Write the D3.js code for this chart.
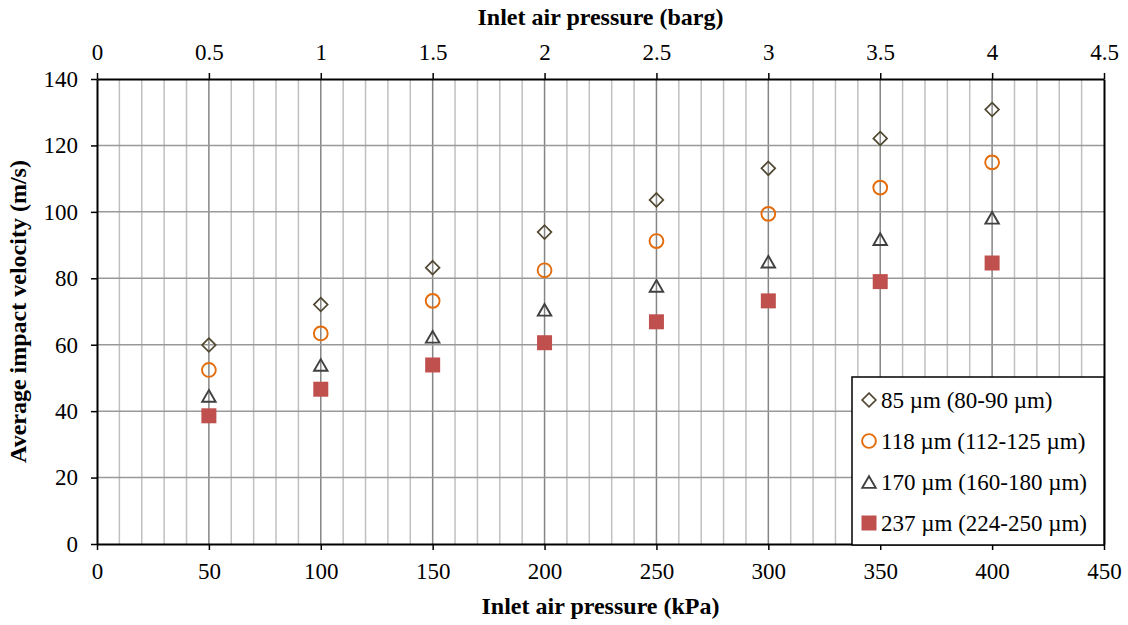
<!DOCTYPE html>
<html>
<head>
<meta charset="utf-8">
<script src="https://cdn.jsdelivr.net/npm/d3@7"></script>
<style>
  html, body { margin: 0; padding: 0; background: #fff; }
</style>
</head>
<body>
<svg id="chart" width="1128" height="625"></svg>
<script>
// Inlet pressure (kPa) and average impact velocity (m/s) per particle size
const pressureKPa = [50, 100, 150, 200, 250, 300, 350, 400];
const v85  = [59.9, 72.1, 83.2, 93.9, 103.6, 113.1, 122.1, 130.8];
const v118 = [52.4, 63.4, 73.2, 82.4, 91.2, 99.4, 107.3, 114.9];
const v170 = [44.6, 53.9, 62.4, 70.5, 77.7, 85.0, 91.8, 98.2];
const v237 = [38.6, 46.6, 53.9, 60.6, 66.9, 73.2, 79.0, 84.6];

const seriesNames = ["85 µm (80-90 µm)", "118 µm (112-125 µm)", "170 µm (160-180 µm)", "237 µm (224-250 µm)"];
const bottomTicks = [0, 50, 100, 150, 200, 250, 300, 350, 400, 450];
const topTicks = [0, 0.5, 1, 1.5, 2, 2.5, 3, 3.5, 4, 4.5];
const yTicks = [0, 20, 40, 60, 80, 100, 120, 140];
const minorX = d3.range(0, 451, 10);

const serif = '"Liberation Serif", "Times New Roman", Times, "DejaVu Serif", serif';
const svg = d3.select("#chart").style("font-family", serif);
const m = { left: 97, right: 1104, top: 79, bottom: 544 };

const x = d3.scaleLinear().domain([0, 450]).range([m.left, m.right]);
const xTop = d3.scaleLinear().domain([0, 4.5]).range([m.left, m.right]);
const y = d3.scaleLinear().domain([0, 140]).range([m.bottom, m.top]);

// Grid: light minor verticals, darker majors and horizontals
const grid = svg.append("g");
grid.selectAll("line.minor").data(minorX.filter(d => d % 50 !== 0)).join("line")
  .attr("x1", d => x(d)).attr("x2", d => x(d))
  .attr("y1", m.top).attr("y2", m.bottom)
  .attr("stroke", "#c0c0c0").attr("stroke-width", 1.5);
grid.selectAll("line.major").data(bottomTicks.slice(1, -1)).join("line")
  .attr("x1", d => x(d)).attr("x2", d => x(d))
  .attr("y1", m.top).attr("y2", m.bottom)
  .attr("stroke", "#858585").attr("stroke-width", 1.5);
grid.selectAll("line.h").data(yTicks.slice(1, -1)).join("line")
  .attr("x1", m.left).attr("x2", m.right)
  .attr("y1", d => y(d)).attr("y2", d => y(d))
  .attr("stroke", "#999").attr("stroke-width", 1.5);

// Axes
const tickFont = "23px";
const titleFont = "24px";
function styleAxis(g) {
  g.selectAll("path.domain").attr("stroke", "#000").attr("stroke-width", 2);
  g.selectAll(".tick line").attr("stroke", "#000").attr("stroke-width", 1.5);
  g.selectAll(".tick text").style("font-family", serif).style("font-size", tickFont).attr("fill", "#000");
}
svg.append("g").attr("transform", `translate(0,${m.bottom})`)
  .call(d3.axisBottom(x).tickValues(bottomTicks).tickSize(6).tickSizeOuter(0).tickPadding(13))
  .call(styleAxis);
svg.append("g").attr("transform", `translate(0,${m.top})`)
  .call(d3.axisTop(xTop).tickValues(topTicks).tickSize(6).tickSizeOuter(0).tickPadding(13)
    .tickFormat(d => String(d)))
  .call(styleAxis);
svg.append("g").attr("transform", `translate(${m.left},0)`)
  .call(d3.axisLeft(y).tickValues(yTicks).tickSize(6).tickSizeOuter(0).tickPadding(13))
  .call(styleAxis);
svg.append("g").attr("transform", `translate(${m.right},0)`)
  .call(d3.axisRight(y).tickValues([]).tickSizeOuter(0))
  .call(styleAxis);

// Axis titles
function title(sel) {
  return sel.attr("text-anchor", "middle").attr("font-weight", "bold")
    .style("font-family", serif).style("font-size", titleFont).attr("fill", "#000");
}
svg.append("text").attr("x", (m.left + m.right) / 2).attr("y", 614)
  .call(title).text("Inlet air pressure (kPa)");
svg.append("text").attr("x", (m.left + m.right) / 2).attr("y", 25)
  .call(title).text("Inlet air pressure (barg)");
svg.append("text").attr("transform", `translate(26,${(m.top + m.bottom) / 2}) rotate(-90)`)
  .call(title).text("Average impact velocity (m/s)");

// Marker styles per series
const markerStyles = [
  { sym: d3.symbolDiamond2, size: 120, dy: 0, fill: "none", stroke: "#4f4730", sw: 1.7 },
  { sym: d3.symbolCircle, size: 150, dy: 0, fill: "none", stroke: "#e46c0a", sw: 1.9 },
  { sym: d3.symbolTriangle2, size: 130, dy: Math.sqrt(130) * 0.6824 / 4, fill: "none", stroke: "#404040", sw: 1.9 },
  { sym: d3.symbolSquare, size: 225, dy: 0, fill: "#c0504d", stroke: "none", sw: 0 }
];
const seriesValues = [v85, v118, v170, v237];

function drawMarker(g, st, cx, cy) {
  return g.append("path")
    .attr("d", d3.symbol().type(st.sym).size(st.size)())
    .attr("transform", `translate(${cx},${cy + st.dy})`)
    .attr("fill", st.fill).attr("stroke", st.stroke).attr("stroke-width", st.sw);
}

const marks = svg.append("g");
seriesValues.forEach((vals, i) => {
  const st = markerStyles[i];
  vals.forEach((v, j) => drawMarker(marks, st, x(pressureKPa[j]), y(v)));
});

// Legend
const lg = svg.append("g");
lg.append("rect").attr("x", 852).attr("y", 377).attr("width", 252).attr("height", 168)
  .attr("fill", "#fff").attr("stroke", "#000").attr("stroke-width", 1.5);
const rowY = [400, 441, 482, 523];
seriesNames.forEach((name, i) => {
  drawMarker(lg, markerStyles[i], 869, rowY[i]);
  lg.append("text").attr("x", 881).attr("y", rowY[i] + 8)
    .style("font-family", serif).style("font-size", tickFont).attr("fill", "#000").text(name);
});
</script>
</body>
</html>
